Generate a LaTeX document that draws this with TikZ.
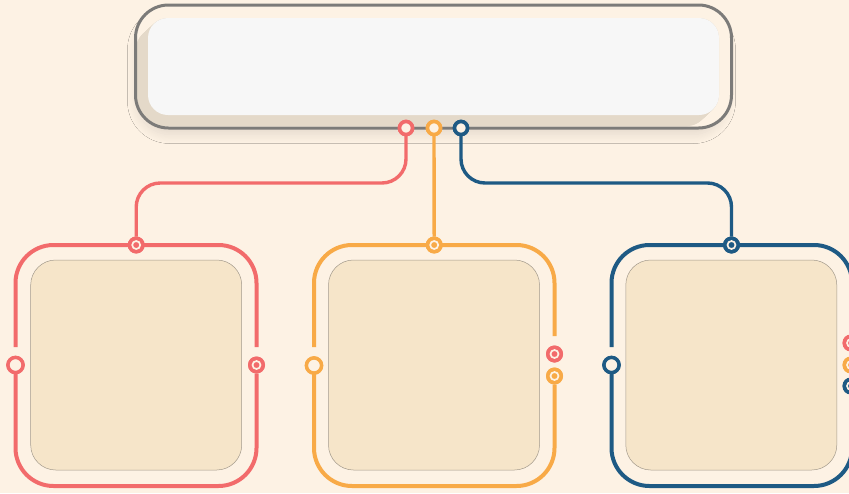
\documentclass[tikz,border=0pt]{standalone}
\usetikzlibrary{shadows.blur}
\definecolor{bgc}{HTML}{FDF2E4}
\definecolor{redc}{HTML}{F26B6B}
\definecolor{orc}{HTML}{F8AA47}
\definecolor{bluc}{HTML}{1E5A84}
\definecolor{grayc}{HTML}{7C7B79}
\definecolor{whitec}{HTML}{F7F7F7}
\definecolor{tanc}{HTML}{E4D9C9}
\definecolor{innerc}{HTML}{F6E5C9}
\definecolor{innerb}{HTML}{A39A8C}
\tikzset{
  ringpin/.style={circle, draw=#1, fill=bgc, line width=3.5pt, minimum size=14.8pt, inner sep=0pt, outer sep=0pt},
  toppin/.style={circle, draw=#1, fill=bgc, line width=3.6pt, minimum size=13pt, inner sep=0pt, outer sep=0pt},
  targetpin/.style={circle, fill=#1, minimum size=17pt, inner sep=0pt, outer sep=0pt,
    path picture={\draw[bgc, line width=1.7pt] (path picture bounding box.center) circle (4pt);}},
  boxline/.style={draw=#1, line width=4pt, rounded corners=38pt},
  conline/.style={draw=#1, line width=3.4pt, rounded corners=24pt},
  innerbox/.style={draw=innerb, line width=0.5pt, fill=innerc, rounded corners=25pt, minimum width=211pt, minimum height=210pt, inner sep=0pt},
}
\begin{document}
\begin{tikzpicture}[x=1pt, y=-1pt]
\useasboundingbox (0,0) rectangle (849,493);
\fill[bgc] (0,0) rectangle (849,493);

% top box
\node[fill=bgc, rounded corners=33pt, minimum width=590pt, minimum height=118pt, inner sep=0pt, outer sep=0pt,
  blur shadow={shadow xshift=-2pt, shadow yshift=-9pt, shadow blur radius=9pt, shadow opacity=10, shadow blur steps=12}] (topsh) at (433.5,66.5) {};
\node[fill=bgc, rounded corners=33pt, minimum width=596pt, minimum height=123pt, inner sep=0pt, outer sep=0pt] (top) at (433.5,66.5) {};
\begin{scope}
  \clip[rounded corners=33pt] (top.south west) rectangle (top.north east);
  \foreach \i in {0,0.5,...,12} {
    \fill[tanc, rounded corners=20pt] ({148-\i},{18+0.92*\i}) rectangle ({719-\i},{115+0.92*\i});
  }
  \node[fill=whitec, rounded corners=20pt, minimum width=571pt, minimum height=97pt, inner sep=0pt, outer sep=0pt] (topin) at (433.5,66.5) {};
\end{scope}
\draw[grayc, line width=3pt, rounded corners=33pt] (top.south west) rectangle (top.north east);

% pins
\node[toppin=redc] (pr) at (406,128) {};
\node[toppin=orc] (po) at (434,128) {};
\node[toppin=bluc] (pb) at (461,128) {};

\node[targetpin=redc] (rT) at (136.2,245) {};
\node[targetpin=orc] (oT) at (434.2,245) {};
\node[targetpin=bluc] (bT) at (731.5,245) {};

\node[ringpin=redc] (rL) at (15.5,365) {};
\node[targetpin=redc] (rR) at (256.5,365) {};
\node[ringpin=orc] (oL) at (314,365.5) {};
\node[targetpin=redc] (oR1) at (554.5,354) {};
\node[targetpin=orc] (oR2) at (554.5,376) {};
\node[ringpin=bluc] (bL) at (611.5,365) {};
\node[targetpin=redc] (bR1) at (851,343) {};
\node[targetpin=orc] (bR2) at (851,365) {};
\node[targetpin=bluc] (bR3) at (851,386) {};

\coordinate (rgl) at (15.5,347);
\coordinate (rgr) at (256.5,347);
\coordinate (ogl) at (314,347);
\coordinate (ogr) at (554.5,336);
\coordinate (bgl) at (611.5,347);
\coordinate (bgr) at (852,335);
\coordinate (bgr2) at (852,396);

% inner boxes
\node[innerbox] (rIn) at (136.2,365) {};
\node[innerbox] (oIn) at (434,365) {};
\node[innerbox] (bIn) at (731.3,365) {};

% box outlines
\draw[boxline=redc] (rL.south) -- (15.5,486) -- (256.5,486) -- (rR.south);
\draw[boxline=redc] (rgl) -- (15.5,245) -- (256.5,245) -- (rgr);
\draw[boxline=orc] (oL.south) -- (314,486) -- (554.5,486) -- (oR2.south);
\draw[boxline=orc] (ogl) -- (314,245) -- (554.5,245) -- (ogr);
\draw[boxline=bluc] (bL.south) -- (611.5,486) -- (852,486) -- (bgr2);
\draw[boxline=bluc] (bgl) -- (611.5,245) -- (852,245) -- (bgr);

% connectors
\draw[conline=redc] (pr.south) -- (406,183) -- (136.2,183) -- (rT.north);
\draw[conline=orc] (po.south) -- (oT.north);
\draw[conline=bluc] (pb.south) -- (461,183) -- (731.5,183) -- (bT.north);

% redraw pins on top
\foreach \n/\c in {rT/redc, oT/orc, bT/bluc, rR/redc, oR1/redc, oR2/orc, bR1/redc, bR2/orc, bR3/bluc} {
  \fill[\c] (\n) circle (8.5pt);
  \draw[bgc, line width=1.7pt] (\n) circle (4pt);
}
\foreach \n/\c in {rL/redc, oL/orc, bL/bluc} {
  \draw[\c, fill=bgc, line width=3.5pt] (\n) circle (7.6pt);
}
\foreach \n/\c in {pr/redc, po/orc, pb/bluc} {
  \draw[\c, fill=bgc, line width=3.6pt] (\n) circle (6.5pt);
}
\end{tikzpicture}
\end{document}
